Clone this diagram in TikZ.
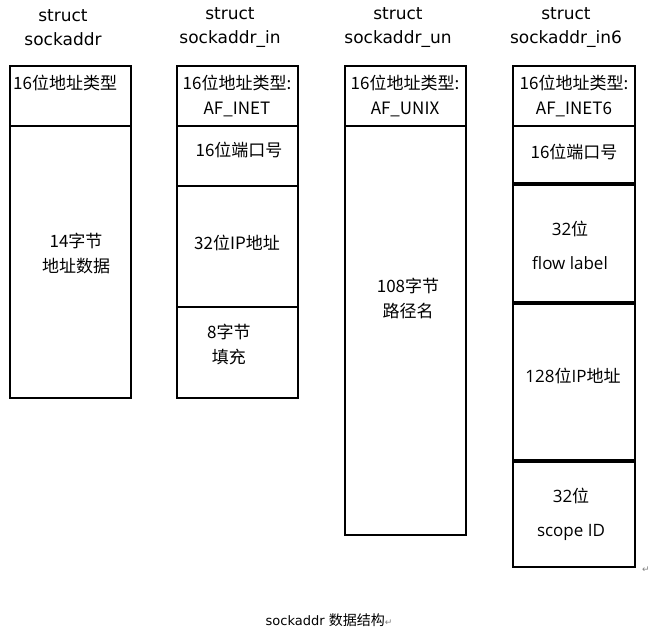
\documentclass[tikz,border=0pt]{standalone}
\usepackage{fontspec}
\setmainfont{DejaVu Sans}
\newfontfamily\cjk{Noto Sans CJK SC}
\newfontfamily\segoe{Open Sans}
\begin{document}
\begin{tikzpicture}[x=1pt,y=-1pt,
  cellbox/.style={draw, line width=2.8pt, inner sep=0pt, outer sep=0pt, anchor=north west},
  thickdiv/.style={line width=3.6pt},
  lbl/.style={inner sep=0pt, align=center, font=\cjk\fontsize{17}{25}\selectfont},
  ttl/.style={inner sep=0pt, align=center, font=\fontsize{17}{24}\selectfont},
  lbl6/.style={inner sep=0pt, align=center, font=\segoe\fontsize{17}{34}\selectfont}]
\useasboundingbox (0,0) rectangle (666,634);
% titles
\node[ttl] (t1) at (63,28) {struct\\sockaddr};
\node[ttl] (t2) at (230,28) {struct\\sockaddr\_in};
\node[ttl] (t3) at (398,28) {struct\\sockaddr\_un};
\node[ttl] (t4) at (566,28) {struct\\sockaddr\_in6};
% column 1
\node[cellbox, minimum width=121pt, minimum height=60pt] (a1) at (10,66) {};
\node[cellbox, minimum width=121pt, minimum height=272pt] (a2) at (10,126) {};
\node[lbl, anchor=west] (a1t) at (13,83) {16位地址类型};
\node[lbl] (a2t) at (76,254) {14字节\\地址数据};
% column 2
\node[cellbox, minimum width=121pt, minimum height=60pt] (b1) at (177,66) {};
\node[cellbox, minimum width=121pt, minimum height=60pt] (b2) at (177,126) {};
\node[cellbox, minimum width=121pt, minimum height=121pt] (b3) at (177,186) {};
\node[cellbox, minimum width=121pt, minimum height=91pt] (b4) at (177,307) {};
\node[lbl] (b1t) at (237,96) {16位地址类型:\\AF\_INET};
\node[lbl] (b2t) at (239,150) {16位端口号};
\node[lbl] (b3t) at (237,243) {32位IP地址};
\node[lbl, anchor=west] (b4t) at (207,344) {8字节\\填充};
% column 3
\node[cellbox, minimum width=121pt, minimum height=60pt] (c1) at (345,66) {};
\node[cellbox, minimum width=121pt, minimum height=409pt] (c2) at (345,126) {};
\node[lbl] (c1t) at (405,96) {16位地址类型:\\AF\_UNIX};
\node[lbl] (c2t) at (408,298) {108字节\\路径名};
% column 4
\node[cellbox, minimum width=122pt, minimum height=60pt] (d1) at (513,66) {};
\node[cellbox, minimum width=122pt, minimum height=58pt] (d2) at (513,126) {};
\node[cellbox, minimum width=122pt, minimum height=119pt] (d3) at (513,184) {};
\node[cellbox, minimum width=122pt, minimum height=158pt] (d4) at (513,303) {};
\node[cellbox, minimum width=122pt, minimum height=106pt] (d5) at (513,461) {};
\draw[thickdiv] (d3.north west) -- (d3.north east);
\draw[thickdiv] (d4.north west) -- (d4.north east);
\draw[thickdiv] (d5.north west) -- (d5.north east);
\node[lbl] (d1t) at (574,96) {16位地址类型:\\AF\_INET6};
\node[lbl] (d2t) at (574,152) {16位端口号};
\node[lbl6] (d3t) at (570,245) {32{\cjk 位}\\flow label};
\node[lbl6] (d4t) at (573,376) {128{\cjk 位}IP{\cjk 地址}};
\node[lbl6] (d5t) at (571,514) {32{\cjk 位}\\scope ID};
\node[inner sep=0pt, text=gray, font=\fontsize{9}{9}\selectfont] (m1) at (646,570) {↵};
% caption
\node[inner sep=0pt, font=\fontsize{13}{16}\selectfont] (cap) at (329,620) {sockaddr {\cjk\fontsize{14}{16}\selectfont 数据结构}\textcolor{gray}{\fontsize{9}{9}\selectfont ↵}};
\end{tikzpicture}
\end{document}
